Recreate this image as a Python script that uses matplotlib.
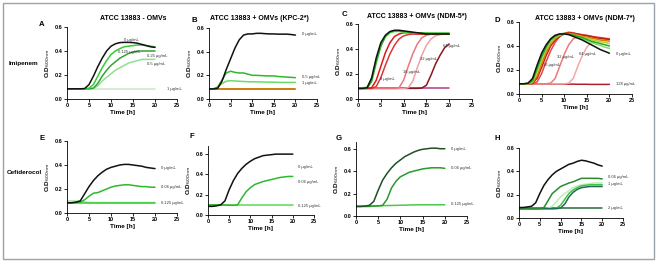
import matplotlib
matplotlib.use("Agg")
import matplotlib.pyplot as plt
from matplotlib.patches import Rectangle

plt.rcParams['font.family'] = ['Liberation Sans', 'DejaVu Sans']

# time points (h)
hours = [0, 1, 2, 3, 4, 5, 6, 7, 8, 9, 10, 11, 12, 13, 14, 15, 16, 17, 18, 19, 20]

# ---- A: Imipenem, ATCC 13883 - OMVs
a_0 = [0.085, 0.085, 0.085, 0.085, 0.087, 0.12, 0.19, 0.27, 0.34, 0.40, 0.44, 0.46, 0.47, 0.472, 0.472, 0.47, 0.465, 0.455, 0.445, 0.435, 0.43]
a_0125 = [0.085, 0.085, 0.085, 0.085, 0.085, 0.09, 0.12, 0.19, 0.26, 0.32, 0.37, 0.40, 0.42, 0.435, 0.44, 0.445, 0.45, 0.45, 0.445, 0.44, 0.435]
a_025 = [0.085, 0.085, 0.085, 0.085, 0.085, 0.085, 0.09, 0.13, 0.19, 0.24, 0.28, 0.31, 0.34, 0.36, 0.38, 0.39, 0.40, 0.40, 0.40, 0.40, 0.40]
a_05 = [0.085, 0.085, 0.085, 0.085, 0.085, 0.085, 0.088, 0.11, 0.15, 0.18, 0.21, 0.24, 0.26, 0.28, 0.30, 0.31, 0.32, 0.33, 0.33, 0.33, 0.33]
a_1 = [0.085] * 21

# ---- B: Imipenem, KPC-2*
b_0 = [0.085, 0.085, 0.09, 0.15, 0.25, 0.34, 0.43, 0.50, 0.54, 0.55, 0.55, 0.555, 0.555, 0.552, 0.55, 0.55, 0.548, 0.548, 0.548, 0.545, 0.54]
b_05 = [0.085, 0.085, 0.10, 0.16, 0.22, 0.235, 0.225, 0.22, 0.22, 0.21, 0.20, 0.20, 0.198, 0.196, 0.195, 0.195, 0.19, 0.188, 0.185, 0.183, 0.18]
b_1 = [0.085, 0.085, 0.10, 0.13, 0.15, 0.155, 0.152, 0.15, 0.148, 0.146, 0.145, 0.145, 0.144, 0.143, 0.142, 0.142, 0.141, 0.14, 0.14, 0.14, 0.14]
b_2 = [0.088] * 21
b_4 = [0.082] * 21

# ---- C: Imipenem, NDM-5*
c_0 = [0.085, 0.085, 0.09, 0.17, 0.33, 0.45, 0.51, 0.54, 0.55, 0.55, 0.545, 0.54, 0.535, 0.53, 0.525, 0.52, 0.52, 0.52, 0.52, 0.52, 0.52]
c_g1 = [0.085, 0.085, 0.088, 0.14, 0.29, 0.42, 0.50, 0.535, 0.545, 0.545, 0.54, 0.535, 0.53, 0.53, 0.528, 0.527, 0.527, 0.527, 0.527, 0.527, 0.527]
c_g2 = [0.09, 0.09, 0.095, 0.16, 0.31, 0.43, 0.50, 0.53, 0.54, 0.54, 0.535, 0.53, 0.53, 0.525, 0.525, 0.525, 0.523, 0.523, 0.523, 0.523, 0.523]
c_4 = [0.085, 0.085, 0.085, 0.09, 0.15, 0.26, 0.37, 0.45, 0.50, 0.52, 0.53, 0.53, 0.525, 0.52, 0.52, 0.518, 0.518, 0.518, 0.518, 0.518, 0.518]
c_8 = [0.085, 0.085, 0.085, 0.085, 0.10, 0.17, 0.27, 0.36, 0.43, 0.48, 0.505, 0.515, 0.52, 0.52, 0.52, 0.518, 0.518, 0.518, 0.518, 0.518, 0.518]
c_16 = [0.085, 0.085, 0.085, 0.085, 0.085, 0.085, 0.085, 0.085, 0.085, 0.09, 0.15, 0.26, 0.36, 0.44, 0.49, 0.51, 0.52, 0.52, 0.52, 0.52, 0.52]
c_32 = [0.085, 0.085, 0.085, 0.085, 0.085, 0.085, 0.085, 0.085, 0.085, 0.085, 0.085, 0.09, 0.14, 0.25, 0.35, 0.43, 0.48, 0.505, 0.515, 0.52, 0.52]
c_64 = [0.085, 0.085, 0.085, 0.085, 0.085, 0.085, 0.085, 0.085, 0.085, 0.085, 0.085, 0.085, 0.085, 0.085, 0.088, 0.11, 0.19, 0.28, 0.35, 0.41, 0.44]
c_128 = [0.085] * 21

# ---- D: Imipenem, NDM-7*
d_0 = [0.085, 0.085, 0.09, 0.13, 0.24, 0.34, 0.41, 0.46, 0.49, 0.50, 0.50, 0.495, 0.48, 0.465, 0.45, 0.43, 0.41, 0.39, 0.37, 0.355, 0.34]
d_g1 = [0.085, 0.085, 0.088, 0.11, 0.21, 0.31, 0.39, 0.45, 0.48, 0.50, 0.505, 0.50, 0.49, 0.48, 0.47, 0.455, 0.44, 0.43, 0.42, 0.41, 0.40]
d_g2 = [0.085, 0.085, 0.088, 0.12, 0.22, 0.32, 0.40, 0.45, 0.48, 0.495, 0.50, 0.495, 0.485, 0.475, 0.46, 0.445, 0.43, 0.415, 0.405, 0.39, 0.38]
d_y = [0.085, 0.085, 0.086, 0.10, 0.18, 0.28, 0.37, 0.43, 0.47, 0.49, 0.50, 0.50, 0.49, 0.485, 0.475, 0.465, 0.455, 0.445, 0.435, 0.43, 0.42]
d_o = [0.085, 0.085, 0.085, 0.095, 0.15, 0.25, 0.35, 0.42, 0.46, 0.49, 0.50, 0.505, 0.50, 0.49, 0.48, 0.475, 0.465, 0.46, 0.45, 0.445, 0.44]
d_r = [0.085, 0.085, 0.085, 0.09, 0.13, 0.22, 0.32, 0.40, 0.45, 0.48, 0.50, 0.51, 0.505, 0.50, 0.49, 0.485, 0.48, 0.47, 0.465, 0.46, 0.455]
d_16 = [0.085, 0.085, 0.085, 0.085, 0.10, 0.17, 0.27, 0.36, 0.43, 0.48, 0.505, 0.515, 0.51, 0.50, 0.495, 0.49, 0.48, 0.475, 0.47, 0.465, 0.46]
d_32 = [0.085, 0.085, 0.085, 0.085, 0.085, 0.085, 0.085, 0.09, 0.13, 0.23, 0.33, 0.41, 0.46, 0.48, 0.485, 0.48, 0.475, 0.47, 0.465, 0.46, 0.455]
d_64 = [0.085, 0.085, 0.085, 0.085, 0.085, 0.085, 0.085, 0.085, 0.085, 0.085, 0.085, 0.09, 0.13, 0.23, 0.32, 0.39, 0.43, 0.45, 0.455, 0.455, 0.45]
d_128 = [0.085, 0.085, 0.085, 0.085, 0.084, 0.084, 0.084, 0.083, 0.083, 0.083, 0.082, 0.082, 0.082, 0.081, 0.081, 0.081, 0.08, 0.08, 0.08, 0.08, 0.08]

# ---- E: Cefiderocol, ATCC 13883 - OMVs
e_0 = [0.085, 0.085, 0.09, 0.10, 0.16, 0.22, 0.27, 0.31, 0.34, 0.365, 0.38, 0.39, 0.40, 0.405, 0.405, 0.40, 0.395, 0.39, 0.38, 0.375, 0.37]
e_006 = [0.085, 0.085, 0.088, 0.09, 0.11, 0.14, 0.165, 0.17, 0.185, 0.20, 0.215, 0.225, 0.23, 0.235, 0.235, 0.23, 0.225, 0.22, 0.22, 0.215, 0.215]
e_0125 = [0.085] * 21
e_0125b = [0.10, 0.10, 0.10, 0.10, 0.092, 0.088, 0.087, 0.087, 0.087, 0.087, 0.087, 0.087, 0.087, 0.087, 0.087, 0.087, 0.087, 0.087, 0.087, 0.087, 0.087]

# ---- F: Cefiderocol, KPC-2*
f_0 = [0.085, 0.085, 0.09, 0.10, 0.14, 0.25, 0.34, 0.41, 0.46, 0.50, 0.53, 0.555, 0.57, 0.585, 0.59, 0.595, 0.60, 0.60, 0.60, 0.60, 0.60]
f_006 = [0.10, 0.10, 0.10, 0.10, 0.098, 0.096, 0.095, 0.10, 0.17, 0.23, 0.27, 0.30, 0.315, 0.33, 0.34, 0.35, 0.36, 0.37, 0.375, 0.38, 0.38]
f_0125 = [0.10, 0.10, 0.10, 0.10, 0.10, 0.10, 0.10, 0.10, 0.10, 0.10, 0.10, 0.10, 0.10, 0.10, 0.10, 0.10, 0.10, 0.10, 0.10, 0.10, 0.10]

# ---- G: Cefiderocol, NDM-5*
g_0 = [0.085, 0.085, 0.088, 0.095, 0.13, 0.23, 0.32, 0.38, 0.43, 0.47, 0.50, 0.53, 0.55, 0.57, 0.585, 0.595, 0.60, 0.605, 0.605, 0.60, 0.60]
g_006 = [0.085, 0.085, 0.085, 0.085, 0.088, 0.09, 0.095, 0.15, 0.25, 0.31, 0.35, 0.37, 0.39, 0.40, 0.41, 0.42, 0.425, 0.43, 0.43, 0.43, 0.425]
g_0125 = [0.088, 0.088, 0.089, 0.09, 0.09, 0.091, 0.092, 0.093, 0.094, 0.095, 0.096, 0.097, 0.098, 0.099, 0.10, 0.10, 0.10, 0.10, 0.10, 0.10, 0.10]

# ---- H: Cefiderocol, NDM-7*
h_0 = [0.09, 0.09, 0.095, 0.10, 0.13, 0.21, 0.28, 0.33, 0.37, 0.40, 0.42, 0.44, 0.46, 0.47, 0.485, 0.495, 0.49, 0.48, 0.47, 0.455, 0.445]
h_006 = [0.08, 0.08, 0.08, 0.08, 0.08, 0.08, 0.09, 0.15, 0.21, 0.24, 0.27, 0.285, 0.30, 0.31, 0.325, 0.34, 0.34, 0.34, 0.34, 0.34, 0.335]
h_1a = [0.08, 0.08, 0.08, 0.08, 0.08, 0.08, 0.08, 0.085, 0.10, 0.14, 0.18, 0.21, 0.235, 0.26, 0.275, 0.285, 0.29, 0.295, 0.30, 0.30, 0.30]
h_1b = [0.08, 0.08, 0.08, 0.08, 0.08, 0.08, 0.08, 0.08, 0.08, 0.085, 0.11, 0.16, 0.21, 0.24, 0.26, 0.275, 0.28, 0.285, 0.285, 0.285, 0.285]
h_1c = [0.08, 0.08, 0.08, 0.08, 0.08, 0.08, 0.08, 0.08, 0.08, 0.08, 0.085, 0.12, 0.18, 0.22, 0.245, 0.26, 0.265, 0.27, 0.27, 0.27, 0.27]
h_2 = [0.085] * 21

label_kw = dict(fontsize=3.0, color='#333333', va='center', ha='left')


def style(ax, ymax, ticks_y=(0.0, 0.2, 0.4, 0.6)):
    ax.set_xlim(0, 25)
    ax.set_ylim(0, ymax)
    ax.set_xticks([0, 5, 10, 15, 20, 25])
    ax.set_yticks(ticks_y)
    ax.set_yticklabels(['%.1f' % v for v in ticks_y])
    for s in ('top', 'right'):
        ax.spines[s].set_visible(False)
    for s in ('left', 'bottom'):
        ax.spines[s].set_linewidth(0.6)
    ax.tick_params(labelsize=4, length=2, width=0.6, pad=1)
    for lab in ax.get_xticklabels() + ax.get_yticklabels():
        lab.set_fontweight('bold')
    ax.set_xlabel('Time [h]', fontsize=4.6, fontweight='bold', labelpad=1)
    ax.set_ylabel(r'O.D$_{600\,nm}$', fontsize=4.6, fontweight='bold', labelpad=2)
    ax.patch.set_alpha(0)


def curves(ax, series):
    for ys, col in series:
        ax.plot(hours, ys, color=col, lw=1.1, solid_capstyle='round')


fig = plt.figure(figsize=(6.57, 2.63), dpi=100)
W, H = 657.0, 263.0


def add_axes(x0, x1, ytop, ybot):
    return fig.add_axes([x0 / W, 1 - ybot / H, (x1 - x0) / W, (ybot - ytop) / H])


# frame
fig.add_artist(Rectangle((3 / W, 4 / H), 651 / W, 256 / H, transform=fig.transFigure,
                         fill=False, edgecolor='#9aa3ab', lw=1.0))

# ---- top row
axA = add_axes(67, 177, 27, 99)
curves(axA, [(a_1, '#c9e6c9'), (a_05, '#8fe08f'), (a_025, '#34a234'), (a_0125, '#33cc33'), (a_0, '#111111')])
style(axA, 0.6)
axA.text(13, 0.49, '0 µg/mL', **label_kw)
axA.text(11.5, 0.39, '0.125 µg/mL', **label_kw)
axA.text(18.2, 0.36, '0.25 µg/mL', **label_kw)
axA.text(18.2, 0.29, '0.5 µg/mL', **label_kw)
axA.text(22.7, 0.083, '1 µg/mL', **label_kw)

axB = add_axes(209, 317, 28, 99)
curves(axB, [(b_4, '#8b2a12'), (b_2, '#e08a00'), (b_1, '#66dd66'), (b_05, '#2eb82e'), (b_0, '#111111')])
style(axB, 0.6)
axB.text(21.5, 0.55, '0 µg/mL', **label_kw)
axB.text(21.5, 0.19, '0.5 µg/mL', **label_kw)
axB.text(21.5, 0.135, '1 µg/mL', **label_kw)

axC = add_axes(358, 472, 24, 99)
curves(axC, [(c_128, '#b03a8a'), (c_64, '#8b1520'), (c_32, '#f0a0a8'), (c_16, '#e87880'),
             (c_8, '#d83a3a'), (c_4, '#e01818'), (c_g2, '#66e04a'), (c_g1, '#22b022'), (c_0, '#111111')])
style(axC, 0.6)
axC.text(4.8, 0.16, '8 µg/mL', **label_kw)
axC.text(9.9, 0.22, '16 µg/mL', **label_kw)
axC.text(13.6, 0.32, '32 µg/mL', **label_kw)
axC.text(18.6, 0.42, '64 µg/mL', **label_kw)

axD = add_axes(519, 632, 22, 94)
curves(axD, [(d_128, '#b0202a'), (d_64, '#f2a8a8'), (d_32, '#ec7a7a'), (d_16, '#e04848'),
             (d_r, '#c0201a'), (d_o, '#e07800'), (d_y, '#b8d030'), (d_g2, '#7ee06a'),
             (d_g1, '#22aa22'), (d_0, '#111111')])
style(axD, 0.6)
axD.text(5.2, 0.24, '16 µg/mL', **label_kw)
axD.text(8.5, 0.31, '32 µg/mL', **label_kw)
axD.text(13.2, 0.33, '64 µg/mL', **label_kw)
axD.text(21.5, 0.33, '0 µg/mL', **label_kw)
axD.text(21.5, 0.08, '128 µg/mL', **label_kw)

# ---- bottom row
axE = add_axes(67, 177, 141, 213)
curves(axE, [(e_0125b, '#9be89b'), (e_0125, '#33cc33'), (e_006, '#2eb82e'), (e_0, '#111111')])
style(axE, 0.6)
axE.text(21.3, 0.375, '0 µg/mL', **label_kw)
axE.text(21.3, 0.22, '0.06 µg/mL', **label_kw)
axE.text(21.3, 0.085, '0.125 µg/mL', **label_kw)

axF = add_axes(208, 314, 146, 215)
curves(axF, [(f_0125, '#5ad85a'), (f_006, '#2eb82e'), (f_0, '#111111')])
style(axF, 0.68)
axF.text(21.3, 0.47, '0 µg/mL', **label_kw)
axF.text(21.3, 0.33, '0.06 µg/mL', **label_kw)
axF.text(21.3, 0.09, '0.125 µg/mL', **label_kw)

axG = add_axes(356, 467, 142, 216)
curves(axG, [(g_0125, '#4cc84c'), (g_006, '#2a9a2a'), (g_0, '#1f4f22')])
style(axG, 0.66)
axG.text(21.3, 0.6, '0 µg/mL', **label_kw)
axG.text(21.3, 0.43, '0.06 µg/mL', **label_kw)
axG.text(21.3, 0.11, '0.125 µg/mL', **label_kw)

axH = add_axes(519, 623, 148, 218)
curves(axH, [(h_2, '#2a6a3a'), (h_1a, '#b8f0b8'), (h_1b, '#44c044'), (h_1c, '#1b6e55'),
             (h_006, '#2a8a30'), (h_0, '#111111')])
style(axH, 0.6)
axH.text(21.3, 0.35, '0.06 µg/mL', **label_kw)
axH.text(21.3, 0.29, '1 µg/mL', **label_kw)
axH.text(21.3, 0.085, '2 µg/mL', **label_kw)

# titles
tkw = dict(fontsize=5.0, fontweight='bold', ha='center', va='center')
fig.text(133 / W, 1 - 18 / H, 'ATCC 13883 - OMVs', **tkw)
fig.text(259 / W, 1 - 18 / H, 'ATCC 13883 + OMVs (KPC-2*)', **tkw)
fig.text(417 / W, 1 - 17 / H, 'ATCC 13883 + OMVs (NDM-5*)', **tkw)
fig.text(585 / W, 1 - 19 / H, 'ATCC 13883 + OMVs (NDM-7*)', **tkw)

# panel letters
pkw = dict(fontsize=5.6, fontweight='bold', ha='center', va='center')
for letter, x, y in [('A', 42, 24), ('B', 194, 20), ('C', 344, 15), ('D', 497, 20),
                     ('E', 42, 138), ('F', 192, 136), ('G', 339, 138), ('H', 497, 138)]:
    fig.text(x / W, 1 - y / H, letter, **pkw)

# row labels
fig.text(9 / W, 1 - 64 / H, 'Imipenem', fontsize=4.6, fontweight='bold', va='center')
fig.text(7 / W, 1 - 172 / H, 'Cefiderocol', fontsize=4.6, fontweight='bold', va='center')

fig.savefig('out.png', dpi=100)
